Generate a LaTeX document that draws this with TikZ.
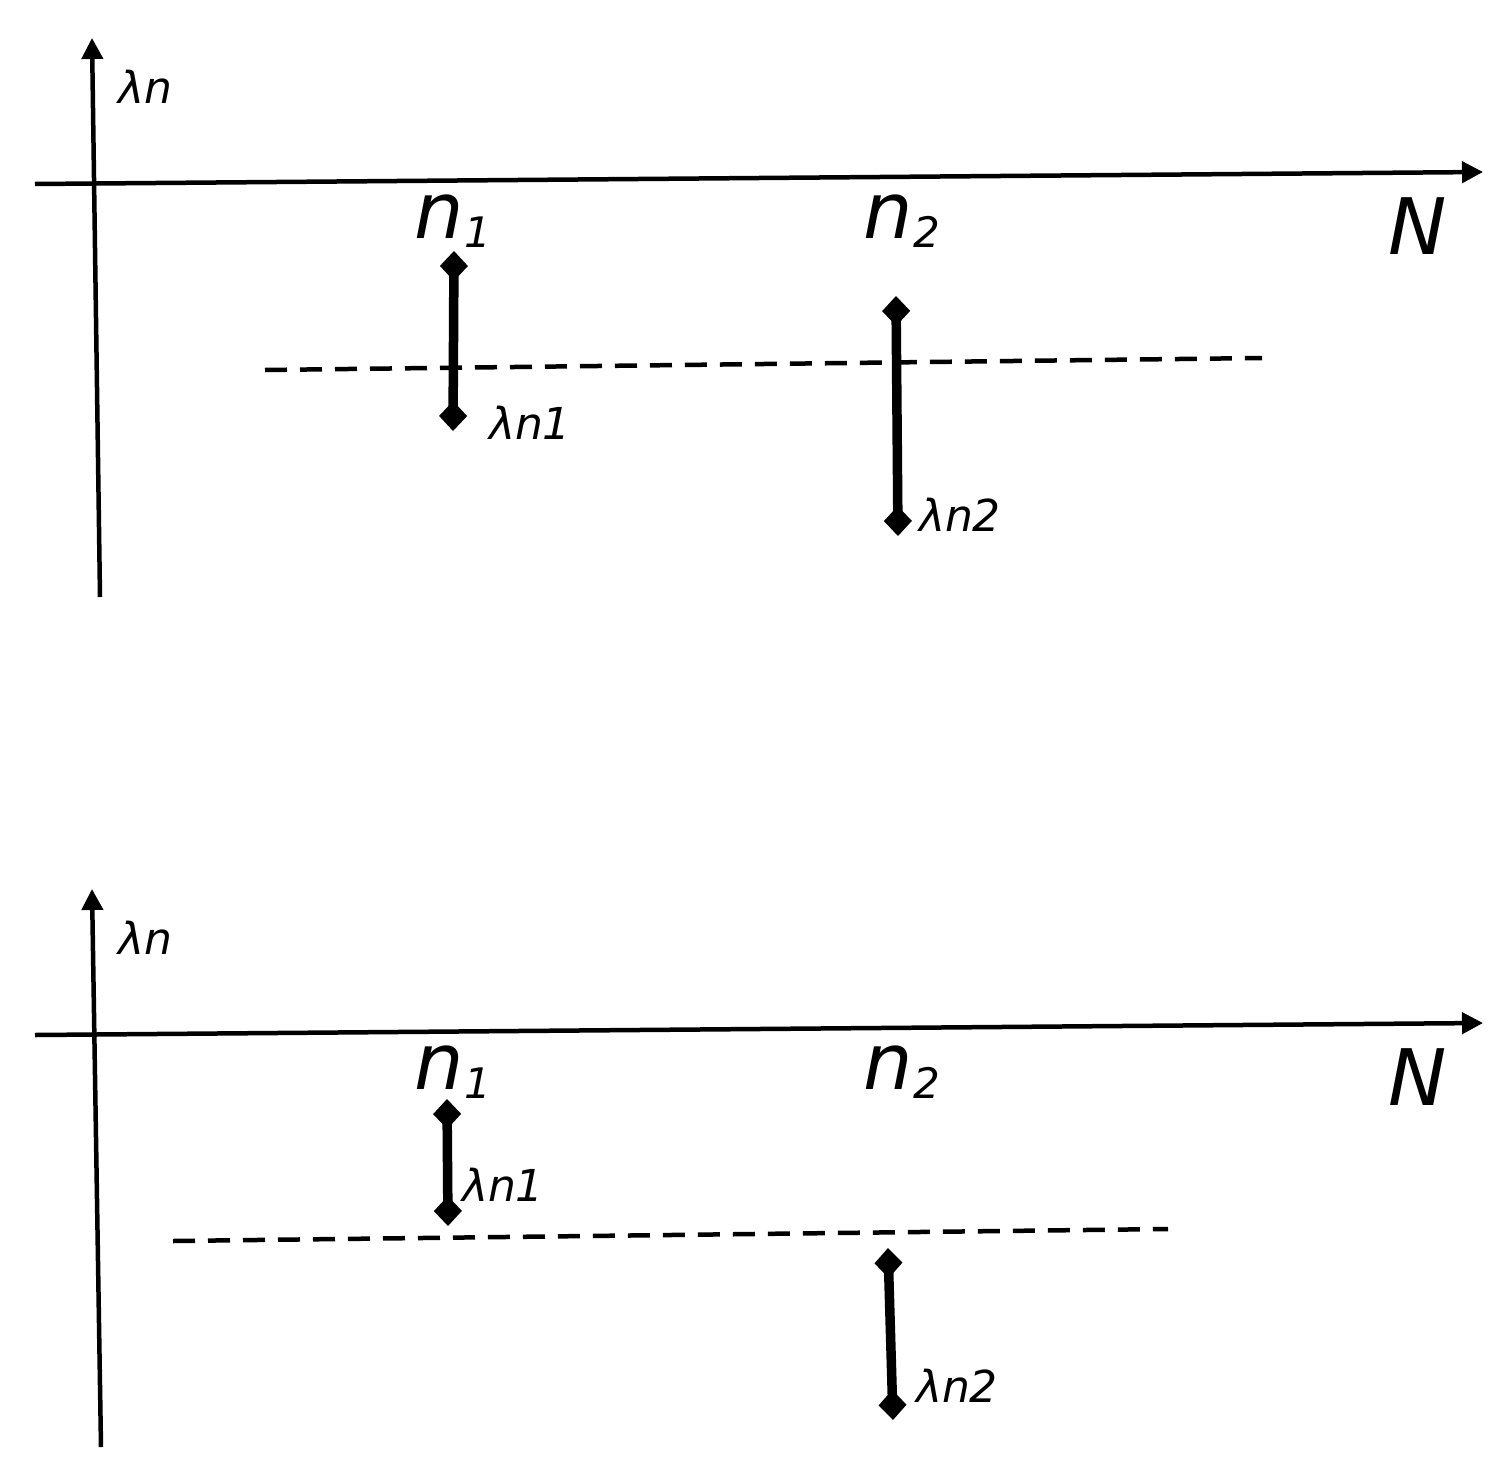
\documentclass[tikz,border=0pt]{standalone}
\usepackage{fontspec}
\setmainfont{DejaVu Sans}
\usetikzlibrary{arrows.meta}
\tikzset{
  axis/.style={line width=4.5pt,-{Triangle[length=21pt,width=21pt]}},
  bar/.style={line width=9.5pt,{Diamond[length=30pt,width=28pt]}-{Diamond[length=30pt,width=28pt]}},
  dashline/.style={line width=4.5pt,dash pattern=on 22pt off 13pt},
  lbl/.style={inner sep=0pt,font=\fontsize{44}{44}\selectfont\itshape},
  big/.style={inner sep=0pt,font=\fontsize{78}{78}\selectfont\itshape},
}
\newcommand{\subn}[1]{n\raisebox{-9pt}{\fontsize{42}{42}\selectfont #1}}
\begin{document}
\begin{tikzpicture}[x=1pt,y=-1pt]
\useasboundingbox (0,0) rectangle (1499,1480);
% ---------- top panel ----------
\coordinate (ay0) at (100,597);
\coordinate (ay1) at (92,38);
\coordinate (ax0) at (35,184);
\coordinate (ax1) at (1483,172);
\draw[axis] (ay0) -- (ay1);
\draw[axis] (ax0) -- (ax1);
\node[lbl] (lam) at (145,87) {λn};
\node[big] (n1) at (453,221) {\subn{1}};
\node[big] (n2) at (902,221) {\subn{2}};
\node[big] (N) at (1418,226) {N};
\coordinate (d0) at (265,370);
\coordinate (d1) at (1262,358);
\draw[dashline] (d0) -- (d1);
\coordinate (b1t) at (454,251);
\coordinate (b1b) at (453,431);
\draw[bar] (b1t) -- (b1b);
\node[lbl] (l1) at (530,423) {λn1};
\coordinate (b2t) at (896,296);
\coordinate (b2b) at (898,536);
\draw[bar] (b2t) -- (b2b);
\node[lbl] (l2) at (960,515) {λn2};
% ---------- bottom panel ----------
\coordinate (by0) at (101,1447);
\coordinate (by1) at (92,889);
\coordinate (bx0) at (35,1035);
\coordinate (bx1) at (1483,1023);
\draw[axis] (by0) -- (by1);
\draw[axis] (bx0) -- (bx1);
\node[lbl] (blam) at (145,938) {λn};
\node[big] (bn1) at (453,1072) {\subn{1}};
\node[big] (bn2) at (902,1072) {\subn{2}};
\node[big] (bN) at (1418,1077) {N};
\coordinate (e0) at (173,1241);
\coordinate (e1) at (1168,1229);
\draw[dashline] (e0) -- (e1);
\coordinate (c1t) at (447,1099);
\coordinate (c1b) at (448,1226);
\draw[bar] (c1t) -- (c1b);
\node[lbl] (m1) at (503,1185) {λn1};
\coordinate (c2t) at (888,1248);
\coordinate (c2b) at (893,1420);
\draw[bar] (c2t) -- (c2b);
\node[lbl] (m2) at (957,1386) {λn2};
\end{tikzpicture}
\end{document}
